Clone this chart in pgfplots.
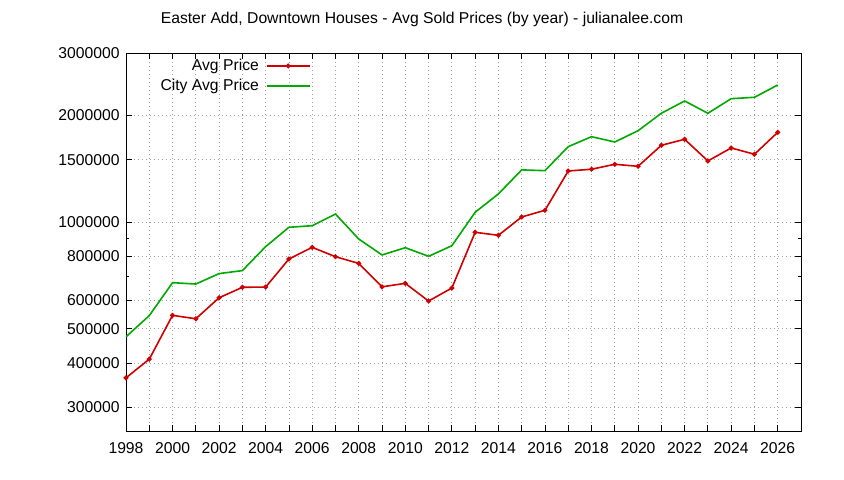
\documentclass[border=0pt]{standalone}
\usepackage{pgfplots}
\pgfplotsset{compat=1.18}
\usepackage{fontspec}
\setmainfont{Liberation Sans}
\definecolor{gred}{RGB}{208,0,0}
\definecolor{ggreen}{RGB}{0,170,0}
\begin{document}
\fontsize{15.7bp}{18bp}\selectfont
\begin{tikzpicture}
\useasboundingbox (-126bp,-49bp) rectangle (718bp,431bp);
\begin{axis}[
  at={(0,0)}, anchor=south west,
  scale only axis, width=675bp, height=378bp,
  ymode=log,
  xmin=1998, xmax=2027,
  ymin=257000, ymax=3000000,
  axis line style={line width=0.8bp},
  xtick={1998,1999,...,2026},
  xticklabels={1998,,2000,,2002,,2004,,2006,,2008,,2010,,2012,,2014,,2016,,2018,,2020,,2022,,2024,,2026},
  ytick={300000,400000,500000,600000,800000,1000000,1500000,2000000,3000000},
  yticklabels={300000,400000,500000,600000,800000,1000000,1500000,2000000,3000000},
  minor ytick={700000,900000},
  major tick length=6bp, minor tick length=3bp,
  tick style={line width=0.8bp, black},
  tick align=inside,
  grid=major,
  major grid style={gray!75, dash pattern=on 0.9bp off 3.1bp, line width=0.8bp},
  /pgf/number format/assume math mode=true,
  xticklabel style={yshift=-6bp},
  yticklabel style={xshift=-1bp},
  legend plot pos=right,
  legend cell align=right,
  legend style={draw=none, fill=none, at={(axis description cs:0.278,0.995)}, anchor=north east,
    nodes={inner sep=2bp}, row sep=2.5bp, column sep=5bp},
  legend image code/.code={\draw[mark repeat=2,mark phase=2,#1,line width=1.6bp] plot coordinates {(0bp,0bp) (21.5bp,0bp) (43bp,0bp)};},
]
\addplot[gred, line width=1.6bp, mark=*, mark size=1.6bp] coordinates {
(1998,363000) (1999,410000) (2000,545000) (2001,533000) (2002,611000)
(2003,654000) (2004,655000) (2005,786000) (2006,848000) (2007,798000)
(2008,764000) (2009,656000) (2010,671000) (2011,598000) (2012,651000)
(2013,935000) (2014,917000) (2015,1033000) (2016,1079000) (2017,1393000)
(2018,1409000) (2019,1455000) (2020,1436000) (2021,1646000) (2022,1712000)
(2023,1487000) (2024,1618000) (2025,1553000) (2026,1791000)};
\addlegendentry{Avg Price}
\addplot[ggreen, line width=1.6bp, mark=none] coordinates {
(1998,474000) (1999,544000) (2000,674000) (2001,668000) (2002,715000)
(2003,729000) (2004,852000) (2005,966000) (2006,976000) (2007,1053000)
(2008,895000) (2009,807000) (2010,846000) (2011,800000) (2012,857000)
(2013,1065000) (2014,1200000) (2015,1403000) (2016,1396000) (2017,1632000)
(2018,1741000) (2019,1682000) (2020,1810000) (2021,2027000) (2022,2196000)
(2023,2027000) (2024,2229000) (2025,2249000) (2026,2436000)};
\addlegendentry{City Avg Price}
\end{axis}
\node at (296bp,412bp) {Easter Add, Downtown Houses - Avg Sold Prices (by year) - julianalee.com};
\end{tikzpicture}
\end{document}
